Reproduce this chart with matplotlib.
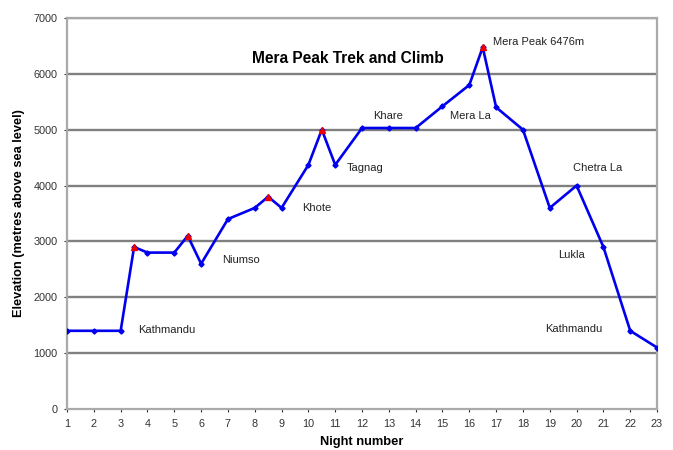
import matplotlib
matplotlib.use("Agg")
import matplotlib.pyplot as plt

plt.rcParams["font.family"] = ["Liberation Sans", "DejaVu Sans"]

# night number and elevation (m)
nights = [1, 2, 3, 3.5, 4, 5, 5.5, 6, 7, 8, 8.5, 9, 10, 10.5, 11,
          12, 13, 14, 15, 16, 16.5, 17, 18, 19, 20, 21, 22, 23]
elev = [1400, 1400, 1400, 2900, 2800, 2800, 3100, 2600, 3400, 3600, 3800, 3600, 4370, 5000, 4370,
        5030, 5030, 5030, 5420, 5800, 6476, 5400, 5000, 3600, 4000, 2900, 1400, 1100]

# daytime high points (red)
peak_x = [3.5, 5.5, 8.5, 10.5, 16.5]
peak_y = [2900, 3100, 3800, 5000, 6476]

place_names = ["Kathmandu", "Niumso", "Khote", "Tagnag", "Khare", "Mera La",
               "Mera Peak 6476m", "Chetra La", "Lukla", "Kathmandu"]
place_x = [3.65, 6.78, 9.76, 11.44, 12.41, 15.28, 16.88, 19.87, 19.31, 18.82]
place_y = [1414, 2667, 3598, 4314, 5245, 5245, 6570, 4314, 2757, 1432]

fig = plt.figure(figsize=(6.73, 4.5), dpi=100)
ax = fig.add_axes([0.0996, 0.0911, 0.8767, 0.869])

for g in range(1000, 8000, 1000):
    ax.axhline(g, color="#808080", lw=1.7, zorder=1)

ax.plot(nights, elev, color="#0000ee", lw=1.9, marker="D", ms=2.6,
        mfc="#0000ee", mec="#0000ee", zorder=3)
ax.plot(peak_x, peak_y, ls="none", marker="^", ms=4, color="#ee0000", zorder=4)

for name, tx, ty in zip(place_names, place_x, place_y):
    ax.text(tx, ty, name, fontsize=8, color="#222222", va="center", ha="left")

ax.text(11.48, 6283, "Mera Peak Trek and Climb", fontsize=11.2, fontweight="bold",
        ha="center", va="center")

ax.set_xlim(1, 23)
ax.set_ylim(0, 7000)
ax.set_xticks(range(1, 24))
ax.set_yticks(range(0, 8000, 1000))
ax.tick_params(labelsize=7.8, colors="#333333", length=2, width=0.8, pad=5)
for s in ax.spines.values():
    s.set_color("#aaaaaa")
    s.set_linewidth(1.6)

ax.set_xlabel("Night number", fontsize=9.3, fontweight="bold", labelpad=5)
ax.set_ylabel("Elevation (metres above sea level)", fontsize=9.2, fontweight="bold", labelpad=6)

fig.savefig("out.png", dpi=100)
